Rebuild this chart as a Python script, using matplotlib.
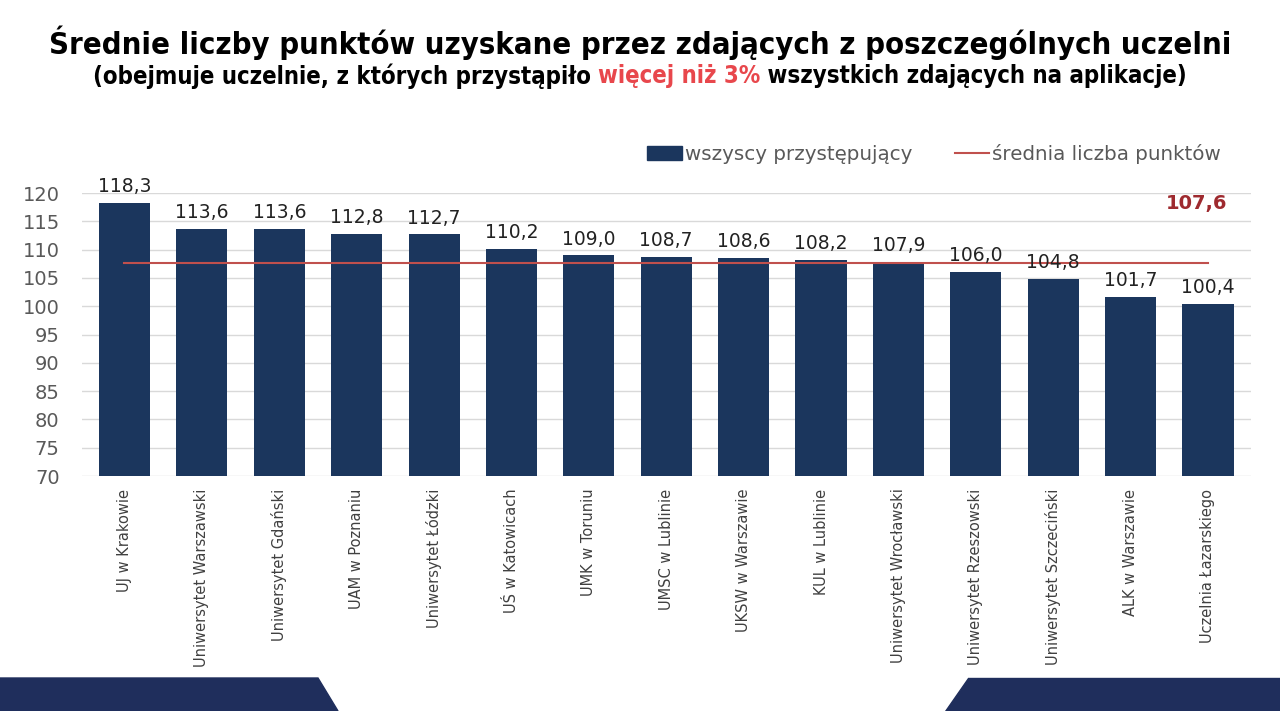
import matplotlib
matplotlib.use("Agg")
import matplotlib.pyplot as plt
from matplotlib.patches import Polygon, Patch
from matplotlib.lines import Line2D

uczelnie = ["UJ w Krakowie", "Uniwersytet Warszawski", "Uniwersytet Gdański",
            "UAM w Poznaniu", "Uniwersytet Łódzki", "UŚ w Katowicach",
            "UMK w Toruniu", "UMSC w Lublinie", "UKSW w Warszawie",
            "KUL w Lublinie", "Uniwersytet Wrocławski", "Uniwersytet Rzeszowski",
            "Uniwersytet Szczeciński", "ALK w Warszawie", "Uczelnia Łazarskiego"]
srednie = [118.3, 113.6, 113.6, 112.8, 112.7, 110.2, 109.0, 108.7, 108.6,
           108.2, 107.9, 106.0, 104.8, 101.7, 100.4]
srednia_ogolna = 107.6
y_ticks = [70, 75, 80, 85, 90, 95, 100, 105, 110, 115, 120]

NAVY = "#1b365d"
RED_LINE = "#c0504d"
GRAY = "#595959"
W, H = 1280, 711

fig = plt.figure(figsize=(12.8, 7.11), dpi=100)
fig.patch.set_facecolor("white")

# dolne ozdobne pasy
def px(x, y):
    return (x / W, 1 - y / H)
fig.patches.append(Polygon([px(0, 678), px(318, 678), px(338, 711), px(0, 711)],
                           closed=True, transform=fig.transFigure, color="#1f2e5c", zorder=0))
fig.patches.append(Polygon([px(968, 678), px(1280, 678), px(1280, 711), px(945, 711)],
                           closed=True, transform=fig.transFigure, color="#1f2e5c", zorder=0))

ax = fig.add_axes([0.064, 0.3305, 0.913, 0.398])
ax.set_facecolor("none")
x = range(len(uczelnie))
ax.bar(x, srednie, width=0.66, color=NAVY, zorder=3)
ax.plot([0, len(uczelnie) - 1], [srednia_ogolna] * 2, color=RED_LINE, lw=1.5, zorder=4)

for i, v in enumerate(srednie):
    ax.text(i, v + 1.2, f"{v:.1f}".replace(".", ","), ha="center", va="bottom",
            fontsize=13.5, color="#222222", zorder=5, clip_on=False)

ax.text(13.85, 118.2, f"{srednia_ogolna:.1f}".replace(".", ","), ha="center", va="center",
        fontsize=14, fontweight="bold", color="#9e2a2f")

ax.set_xlim(-0.55, len(uczelnie) - 0.45)
ax.set_ylim(70, 120)
ax.set_yticks(y_ticks)
ax.set_yticklabels([str(t) for t in y_ticks], fontsize=14, color=GRAY)
ax.set_xticks(list(x))
ax.set_xticklabels(uczelnie, rotation=90, fontsize=10.5, color="#404040", va="top")
ax.tick_params(axis="both", length=0)
ax.tick_params(axis="y", pad=16)
ax.tick_params(axis="x", pad=9)
ax.grid(axis="y", color="#d9d9d9", lw=1, zorder=0)
for s in ax.spines.values():
    s.set_visible(False)

handles = [Patch(color=NAVY), Line2D([0], [0], color=RED_LINE, lw=1.5)]
fig.legend(handles, ["wszyscy przystępujący", "średnia liczba punktów"],
           loc="center right", bbox_to_anchor=(0.968, 0.783), ncol=2, frameon=False,
           fontsize=14.3, labelcolor=GRAY, handlelength=1.75, handletextpad=0.15,
           columnspacing=2.15)

# tytuł i podtytuł, dopasowane do szerokości z oryginału
fig.canvas.draw()
renderer = fig.canvas.get_renderer()

title = fig.text(0.5, 0.94, "Średnie liczby punktów uzyskane przez zdających z poszczególnych uczelni",
                 ha="center", va="center", fontsize=26, fontweight="bold",
                 fontstretch="condensed", color="black")
tw = title.get_window_extent(renderer).width
title.set_fontsize(26 * 1180 / tw)

parts = [("(obejmuje uczelnie, z których przystąpiło ", "black"),
         ("więcej niż 3%", "#e8474c"),
         (" wszystkich zdających na aplikacje)", "black")]
texts = []
for s, c in parts:
    t = fig.text(0, 0.893, s, ha="left", va="center", fontsize=18, fontweight="bold",
                 fontstretch="condensed", color=c)
    texts.append(t)
total = sum(t.get_window_extent(renderer).width for t in texts)
fs = 18 * 1100 / total
for t in texts:
    t.set_fontsize(fs)
widths = [t.get_window_extent(renderer).width for t in texts]
start = (W - sum(widths)) / 2
for t, w in zip(texts, widths):
    t.set_x(start / W)
    start += w

fig.savefig("out.png", dpi=100)
